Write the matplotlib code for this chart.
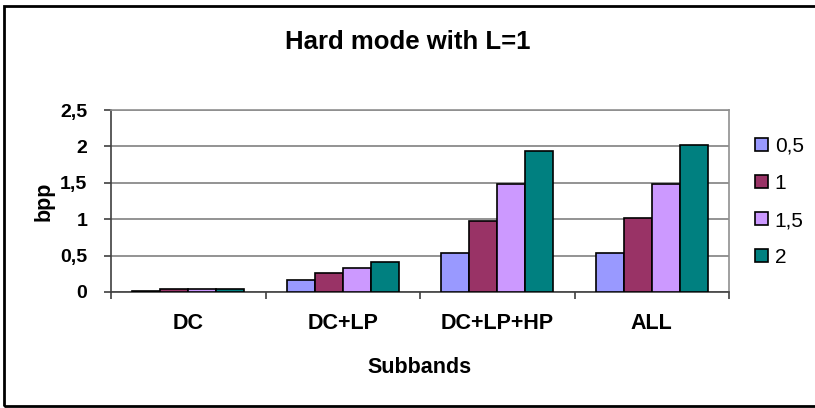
import matplotlib
matplotlib.use("Agg")
import matplotlib.pyplot as plt
import numpy as np
from matplotlib.patches import Rectangle

plt.rcParams['font.family'] = ['Liberation Sans', 'DejaVu Sans']

# data
subbands = ["DC", "DC+LP", "DC+LP+HP", "ALL"]
series_names = ["0,5", "1", "1,5", "2"]
bpp_05 = [0.02, 0.165, 0.54, 0.54]
bpp_1 = [0.045, 0.265, 0.98, 1.01]
bpp_15 = [0.045, 0.33, 1.49, 1.49]
bpp_2 = [0.045, 0.41, 1.94, 2.02]
colors = ["#9999FF", "#993366", "#CC99FF", "#008080"]
yticks = [0, 0.5, 1, 1.5, 2, 2.5]
ytick_labels = ["0", "0,5", "1", "1,5", "2", "2,5"]

fig = plt.figure(figsize=(8.15, 4.08), dpi=100)
ax = fig.add_axes([111/815, 116/408, 618/815, 182/408])

x = np.arange(len(subbands))
w = 0.181
all_series = [bpp_05, bpp_1, bpp_15, bpp_2]
for i, vals in enumerate(all_series):
    ax.bar(x + (i - 1.5) * w, vals, w, color=colors[i], edgecolor="black",
           linewidth=1.2, label=series_names[i], zorder=3)

ax.set_xlim(-0.5, len(subbands) - 0.5)
ax.set_ylim(0, 2.5)
ax.set_yticks(yticks)
ax.set_yticklabels(ytick_labels, fontsize=14, fontweight="bold")
ax.yaxis.grid(True, color="#808080", linewidth=1.2, zorder=0)
ax.set_xticks(x)
ax.set_xticklabels(subbands, fontsize=15.5, fontweight="bold")
ax.tick_params(axis="x", length=0, pad=15)
ax.set_xticks(np.arange(-0.5, len(subbands)), minor=True)
ax.tick_params(axis="x", which="minor", length=5, color="#404040", width=1.2)
ax.tick_params(axis="y", length=5, color="#404040", width=1.2, pad=12)

for s in ["left", "bottom"]:
    ax.spines[s].set_color("#404040")
    ax.spines[s].set_linewidth(1.2)
for s in ["right", "top"]:
    ax.spines[s].set_color("#909090")
    ax.spines[s].set_linewidth(1.2)

ax.set_xlabel("Subbands", fontsize=15.5, fontweight="bold", labelpad=17)
ax.set_ylabel("bpp", fontsize=15.5, fontweight="bold", labelpad=4)
fig.text(0.5, 1 - 42/408, "Hard mode with L=1", ha="center", va="center",
         fontsize=18.5, fontweight="bold")

fig.legend(loc="center left", bbox_to_anchor=(755/815, 1 - 202/408), frameon=False,
           fontsize=15, handlelength=0.6, handleheight=0.6, handletextpad=0.35,
           labelspacing=0.87, borderpad=0, borderaxespad=0)

fig.patches.append(Rectangle((4/815, 2/408), 830/815, 400/408, transform=fig.transFigure,
                             fill=False, edgecolor="black", linewidth=2))

fig.savefig("out.png", dpi=100)
